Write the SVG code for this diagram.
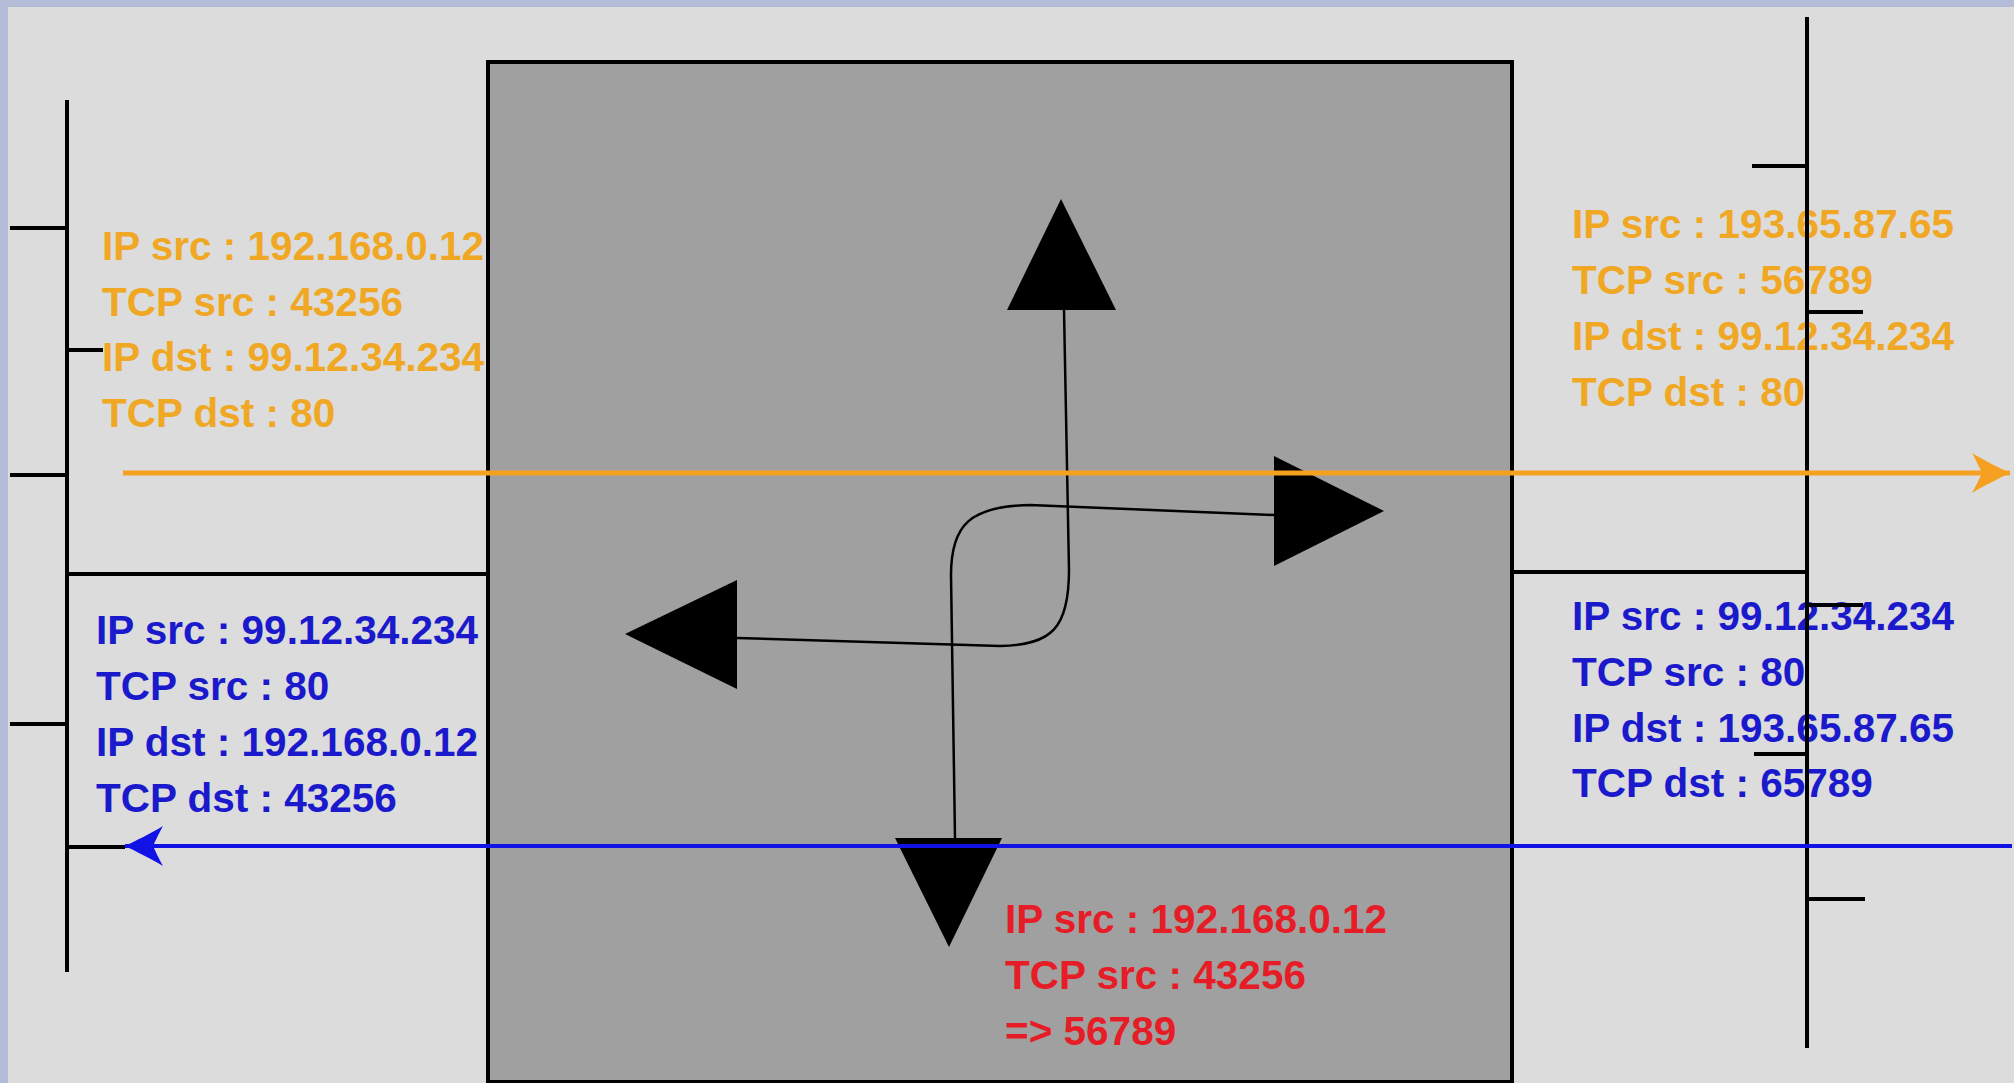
<svg xmlns="http://www.w3.org/2000/svg" width="2014" height="1083" viewBox="0 0 2014 1083">
<defs>
<style>
.t{font-family:"Liberation Sans",Arial,sans-serif;font-weight:bold;font-size:40.5px}
.or{fill:#f0a824}
.bl{fill:#1a1acc}
.rd{fill:#e61c26}
.net{stroke:#000;stroke-width:4;fill:none;stroke-linecap:butt}
.cur{stroke:#000;stroke-width:2.5;fill:none}
.tri{fill:#000}
</style>
<marker id="ahO" markerUnits="userSpaceOnUse" viewBox="-40 -21 42 42" refX="0" refY="0" markerWidth="42" markerHeight="42" orient="auto">
<path d="M0,0 C-10,-5 -25,-12 -38,-20 C-32,-9 -30,-4 -28,0 C-30,4 -32,9 -38,20 C-25,12 -10,5 0,0 Z" fill="#f5a021"/>
</marker>
<marker id="ahB" markerUnits="userSpaceOnUse" viewBox="-40 -21 42 42" refX="0" refY="0" markerWidth="42" markerHeight="42" orient="auto">
<path d="M0,0 C-10,-5 -25,-12 -38,-20 C-32,-9 -30,-4 -28,0 C-30,4 -32,9 -38,20 C-25,12 -10,5 0,0 Z" fill="#1212e6"/>
</marker>
</defs>
<rect x="0" y="0" width="2014" height="1083" fill="#b4bcd8"/>
<rect x="8" y="7" width="2006" height="1076" fill="#dcdcdc"/>

<g id="labels-left-out">
<text class="t or" x="102" y="260">IP src : 192.168.0.12</text>
<text class="t or" x="102" y="316">TCP src : 43256</text>
<text class="t or" x="102" y="371">IP dst : 99.12.34.234</text>
<text class="t or" x="102" y="427">TCP dst : 80</text>
</g>
<g id="labels-left-in">
<text class="t bl" x="96" y="644">IP src : 99.12.34.234</text>
<text class="t bl" x="96" y="700">TCP src : 80</text>
<text class="t bl" x="96" y="756">IP dst : 192.168.0.12</text>
<text class="t bl" x="96" y="812">TCP dst : 43256</text>
</g>
<g id="labels-right-out">
<text class="t or" x="1572" y="238">IP src : 193.65.87.65</text>
<text class="t or" x="1572" y="294">TCP src : 56789</text>
<text class="t or" x="1572" y="350">IP dst : 99.12.34.234</text>
<text class="t or" x="1572" y="406">TCP dst : 80</text>
</g>
<g id="labels-right-in">
<text class="t bl" x="1572" y="630">IP src : 99.12.34.234</text>
<text class="t bl" x="1572" y="686">TCP src : 80</text>
<text class="t bl" x="1572" y="742">IP dst : 193.65.87.65</text>
<text class="t bl" x="1572" y="797">TCP dst : 65789</text>
</g>

<g id="left-network">
<line class="net" x1="67" y1="100" x2="67" y2="972"/>
<line class="net" x1="10" y1="228" x2="67" y2="228"/>
<line class="net" x1="67" y1="350" x2="103" y2="350"/>
<line class="net" x1="10" y1="475" x2="67" y2="475"/>
<line class="net" x1="10" y1="724" x2="67" y2="724"/>
<line class="net" x1="67" y1="847" x2="125" y2="847"/>
<line class="net" x1="67" y1="574" x2="488" y2="574"/>
</g>

<g id="right-network">
<line class="net" x1="1807" y1="17" x2="1807" y2="1048"/>
<line class="net" x1="1752" y1="166" x2="1807" y2="166"/>
<line class="net" x1="1807" y1="312" x2="1863" y2="312"/>
<line class="net" x1="1807" y1="605" x2="1863" y2="605"/>
<line class="net" x1="1754" y1="754" x2="1807" y2="754"/>
<line class="net" x1="1807" y1="899" x2="1865" y2="899"/>
<line class="net" x1="1512" y1="572" x2="1807" y2="572"/>
</g>

<g id="router">
<rect x="488" y="62" width="1024" height="1020" fill="#a0a0a0" stroke="#000" stroke-width="4"/>
</g>

<g id="label-nat">
<text class="t rd" x="1005" y="933">IP src : 192.168.0.12</text>
<text class="t rd" x="1005" y="989">TCP src : 43256</text>
<text class="t rd" x="1005" y="1045">=&gt; 56789</text>
</g>

<g id="connectors">
<path class="cur" d="M1064,310 L1069,570 C1069,628 1052,645 1000,646 L737,638"/>
<path class="cur" d="M955,838 L951,575 C951,525 970,506 1030,505 L1274,515"/>
<polygon class="tri" points="1061,199 1007,310 1116,310"/>
<polygon class="tri" points="1384,511 1274,456 1274,566"/>
<polygon class="tri" points="625,634 737,580 737,689"/>
<polygon class="tri" points="949,947 895,838 1002,838"/>
<line x1="123" y1="473" x2="2010" y2="473" stroke="#f5a021" stroke-width="5" marker-end="url(#ahO)"/>
<line x1="2012" y1="846" x2="125" y2="846" stroke="#1212e6" stroke-width="4" marker-end="url(#ahB)"/>
</g>
</svg>
